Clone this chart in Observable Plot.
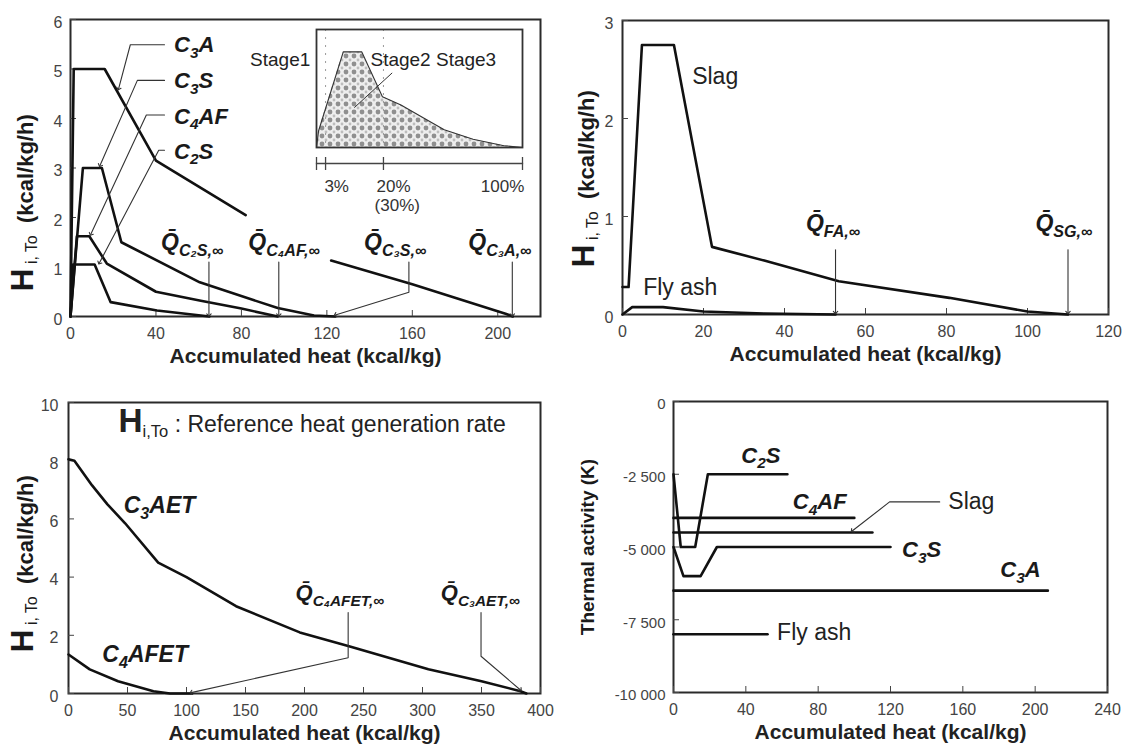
<!DOCTYPE html>
<html><head><meta charset="utf-8">
<script src="https://cdn.jsdelivr.net/npm/d3@7"></script>
<script src="https://cdn.jsdelivr.net/npm/@observablehq/plot@0.6"></script>
<style>
body{margin:0;background:#fff;}
#wrap{position:relative;width:1126px;height:747px;overflow:hidden;background:#fff;}
</style></head><body><div id="wrap"></div>
<script>
// ================= DATA =================
// Panel A: reference heat generation rate of clinker minerals
const pAxTicks = [0, 40, 80, 120, 160, 200];
const pAyTicks = [0, 1, 2, 3, 4, 5, 6];
const c3aHeat = [0, 1.5, 16, 40, 82, null, 122, 160, 204, 207];
const c3aRate = [0, 5.0, 5.0, 3.15, 2.05, null, 1.13, 0.65, 0.05, 0];
const c3sHeat = [0, 5.8, 14.7, 23.8, 60.5, 97, 114, 124];
const c3sRate = [0, 3.0, 3.0, 1.5, 0.69, 0.17, 0.02, 0];
const c4afHeat = [0, 3, 8.8, 17, 40, 61, 80, 97];
const c4afRate = [0, 1.62, 1.62, 1.07, 0.5, 0.32, 0.16, 0];
const c2sHeat = [0, 1.2, 11.3, 18.8, 40.5, 61, 65];
const c2sRate = [0, 1.05, 1.05, 0.29, 0.12, 0.02, 0];
const pANames = ["C_{3}A", "C_{3}S", "C_{4}AF", "C_{2}S"];
const pANameX = [48.5, 48.5, 48.5, 48.5];
const pANameY = [5.49, 4.75, 4.04, 3.33];
const pALeadX = [[44, 28, 22.5], [44, 31.3, 13.8], [44, 35.5, 9.5], [44, 41.3, 13.5]];
const pALeadY = [[5.49, 5.49, 4.6], [4.77, 4.77, 3.05], [4.07, 4.07, 1.66], [3.36, 3.36, 1.08]];
const pAQNames = ["Q\u0304_{C\u2082S,\u221E}", "Q\u0304_{C\u2084AF,\u221E}", "Q\u0304_{C\u2083S,\u221E}", "Q\u0304_{C\u2083A,\u221E}"];
const pAQX = [57, 100, 152, 201];
const pAQY = [1.5, 1.5, 1.5, 1.5];
const pAQLeadX = [[64.8, 64.8], [97.5, 97.5], [158.4, 158.4, 124], [206.8, 206.8]];
const pAQLeadY = [[1.1, 0.03], [1.1, 0.03], [1.1, 0.49, 0.03], [1.1, 0.03]];

// Inset: schematic stages (x: schematic progress, y: relative rate)
const insetX = [0, 1, 13, 22, 32, 41, 52, 62, 76, 91, 100];
const insetY = [0, 0.14, 0.81, 0.81, 0.43, 0.36, 0.25, 0.15, 0.07, 0.015, 0];
const insetTicks = [0, 4.4, 32.5, 100];
const insetStageLines = [4.4, 32.5];
const insetTickText = ["3%", "20%", "100%"];
const insetTickTextX = [9.8, 37.4, 90.3];
const insetTickText2 = ["(30%)"];
const insetTickText2X = [39.2];
const stage1Name = ["Stage1"];
const stage1X = [-3];
const stage23Name = ["Stage2 Stage3"];
const stage23X = [26.2];
const stageNameY = [0.74];
const stageLeadX = [36.6, 18.5];
const stageLeadY = [0.63, 0.34];

// Panel B: slag and fly ash
const pBxTicks = [0, 20, 40, 60, 80, 100, 120];
const pByTicks = [0, 1, 2, 3];
const slagHeat = [0, 1.5, 4.8, 12.7, 22.1, 35, 53.4, 80.7, 100, 110];
const slagRate = [0.28, 0.28, 2.75, 2.75, 0.69, 0.55, 0.34, 0.17, 0.03, 0];
const flyHeat = [0, 2.4, 10, 20, 35, 52.6];
const flyRate = [0, 0.075, 0.075, 0.03, 0.01, 0];
const pBNames = ["Slag", "Fly ash"];
const pBNameX = [17.2, 5.1];
const pBNameY = [2.43, 0.27];
const pBQNames = ["Q\u0304_{FA,\u221E}", "Q\u0304_{SG,\u221E}"];
const pBQX = [52, 109];
const pBQY = [0.93, 0.93];
const pBQLeadX = [[52.6, 52.6], [110, 110]];
const pBQLeadY = [[0.66, 0.02], [0.66, 0.02]];

// Panel C: ettringite phases
const pCxTicks = [0, 50, 100, 150, 200, 250, 300, 350, 400];
const pCyTicks = [0, 2, 4, 6, 8, 10];
const c3aetHeat = [0, 5, 20, 33, 48, 76, 100, 142, 196, 237, 305, 350, 383, 388];
const c3aetRate = [8.05, 8.0, 7.15, 6.5, 5.85, 4.5, 4.0, 3.0, 2.1, 1.63, 0.83, 0.42, 0.08, 0];
const c4afetHeat = [0, 18, 42, 72, 86, 104];
const c4afetRate = [1.34, 0.83, 0.42, 0.08, 0, 0];
const pCNames = ["C_{3}AET", "C_{4}AFET"];
const pCNameX = [46.8, 28.7];
const pCNameY = [6.44, 1.34];
const pCNote = ["*{H}_r{i,To}\u00A0: Reference heat generation rate"];
const pCNoteX = [42.3];
const pCNoteY = [9.25];
const pCQNames = ["Q\u0304_{C\u2084AFET,\u221E}", "Q\u0304_{C\u2083AET,\u221E}"];
const pCQX = [230, 349];
const pCQY = [3.46, 3.46];
const pCQLeadX = [[237, 237, 104], [349.6, 349.6, 383]];
const pCQLeadY = [[2.78, 1.23, 0.03], [2.78, 1.28, 0.12]];

// Panel D: thermal activity
const pDxTicks = [0, 40, 80, 120, 160, 200, 240];
const pDyTicks = [0, -2500, -5000, -7500, -10000];
const pDyTickText = ["0", "-2 500", "-5 000", "-7 500", "-10 000"];
const taC2SHeat = [0, 4, 12, 19, 63];
const taC2SK = [-2500, -5000, -5000, -2500, -2500];
const taC3SHeat = [0, 5.5, 15, 24, 120];
const taC3SK = [-5000, -6000, -6000, -5000, -5000];
const taC4AFHeat = [0, 100];
const taC4AFK = [-4000, -4000];
const taSlagHeat = [0, 110];
const taSlagK = [-4500, -4500];
const taC3AHeat = [0, 207];
const taC3AK = [-6500, -6500];
const taFlyHeat = [0, 52];
const taFlyK = [-8000, -8000];
const pDNames = ["C_{2}S", "C_{4}AF", "C_{3}S", "C_{3}A"];
const pDNameX = [37.5, 66, 126.4, 180.7];
const pDNameY = [-1857, -3451, -5103, -5786];
const pDPlainNames = ["Slag", "Fly ash"];
const pDPlainX = [152, 57.3];
const pDPlainY = [-3451, -7950];
const pDLeadX = [147.2, 119.5, 98.8];
const pDLeadY = [-3451, -3451, -4450];

const xTitle = ["Accumulated heat (kcal/kg)"];
const yTitleH = ["*{H}_r{\u00A0i, To}\u00A0\u00A0(kcal/kg/h)"];
const yTitleK = ["Thermal activity (K)"];

// ================= HELPERS =================
const FONT = "'Liberation Sans', Arial, Helvetica, sans-serif";
const wrap = document.getElementById("wrap");
const rows = (name, xs, ys) => xs.map((x, i) => ({name, x, y: ys[i]}));
const labelRows = (ts, xs, ys) => ts.map((t, i) => ({t, x: xs[i], y: ys[i]}));
const polyRows = (xss, yss) => xss.flatMap((xs, k) => xs.map((x, i) => ({id: k, x, y: yss[k][i]})));

function richify(svg) {
  svg.querySelectorAll("text").forEach(t => {
    const s = t.textContent;
    if (!/(\*|_r?)\{/.test(s) || t.querySelector("tspan")) return;
    const fs = parseFloat(getComputedStyle(t).fontSize) || 16;
    const parts = s.split(/(\*\{[^}]*\}|_r?\{[^}]*\})/).filter(p => p !== "");
    while (t.firstChild) t.removeChild(t.firstChild);
    let shift = 0;
    for (const p of parts) {
      const ts = document.createElementNS("http://www.w3.org/2000/svg", "tspan");
      let txt = p, target = 0;
      if (p.startsWith("*{")) { txt = p.slice(2, -1); ts.setAttribute("font-size", fs * 1.45); ts.setAttribute("font-weight", "bold"); }
      else if (p.startsWith("_r{")) { txt = p.slice(3, -1); ts.setAttribute("font-size", fs * 0.72); ts.setAttribute("font-weight", "normal"); ts.setAttribute("font-style", "normal"); target = fs * 0.22; }
      else if (p.startsWith("_{")) { txt = p.slice(2, -1); ts.setAttribute("font-size", fs * 0.7); target = fs * 0.26; }
      if (target !== shift) { ts.setAttribute("dy", target - shift); shift = target; }
      ts.textContent = txt;
      t.appendChild(ts);
    }
  });
}
function mount(svg, left, top) {
  svg.style.position = "absolute";
  svg.style.left = left + "px";
  svg.style.top = top + "px";
  wrap.appendChild(svg);
  richify(svg);
}
function baseStyle() {
  return {fontFamily: FONT, fontSize: "16px", color: "#3a3a3a", background: "transparent", overflow: "visible"};
}
function axesMarks(xTicks, yTicks, fw, fh, opts = {}) {
  return [
    Plot.frame({stroke: "#2a2a2a", strokeWidth: 2}),
    Plot.tickX(xTicks, {x: d => d, insetTop: fh - 6, stroke: "#444"}),
    Plot.tickY(yTicks, {y: d => d, insetRight: fw - 6, stroke: "#444"}),
    Plot.axisX({ticks: xTicks, tickSize: 0, tickPadding: 11, label: null, fontSize: 16, fill: "#444", tickFormat: d => String(d)}),
    Plot.axisY({ticks: yTicks, tickSize: 0, tickPadding: opts.yPad ?? 8, dy: 3, label: null,
      fontSize: opts.yFont ?? 16, fill: "#444", tickFormat: opts.yFormat ?? (d => String(d))}),
    Plot.text(xTitle, {text: d => d, frameAnchor: "bottom", lineAnchor: "middle", dy: 40, fontSize: 21, fontWeight: "bold", fill: "#222"})
  ];
}
const lineStyle = {x: "x", y: "y", z: "name", stroke: "#111", strokeWidth: 2.6, strokeLinejoin: "round"};
const leadStyle = {x: "x", y: "y", z: "id", stroke: "#333", strokeWidth: 1.1, markerEnd: "arrow"};
const italicLabel = {x: "x", y: "y", text: "t", fontSize: 22, fontWeight: "bold", fontStyle: "italic", fill: "#1a1a1a"};

// ================= PANEL A =================
{
  const fw = 470, fh = 297;
  const data = [
    ...rows("C3A", c3aHeat, c3aRate), ...rows("C3S", c3sHeat, c3sRate),
    ...rows("C4AF", c4afHeat, c4afRate), ...rows("C2S", c2sHeat, c2sRate)
  ];
  const svg = Plot.plot({
    width: 560, height: 380, marginLeft: 70, marginRight: 20, marginTop: 19, marginBottom: 64,
    x: {domain: [0, 220]}, y: {domain: [0, 6]}, style: baseStyle(),
    marks: [
      ...axesMarks(pAxTicks, pAyTicks, fw, fh),
      Plot.line(data, lineStyle),
      Plot.line(polyRows(pALeadX, pALeadY), leadStyle),
      Plot.line(polyRows(pAQLeadX, pAQLeadY), leadStyle),
      Plot.text(labelRows(pANames, pANameX, pANameY), {...italicLabel, textAnchor: "start"}),
      Plot.text(labelRows(pAQNames, pAQX, pAQY), {...italicLabel, textAnchor: "middle", fontSize: 23}),
      Plot.text(yTitleH, {text: d => d, frameAnchor: "bottom-left", rotate: -90, textAnchor: "start",
        dx: -38, dy: -25, fontSize: 22, fontWeight: "bold", fill: "#1a1a1a"})
    ]
  });
  mount(svg, 0, 0);
}

// ================= INSET =================
{
  const inset = insetX.map((x, i) => ({x, y: insetY[i]}));
  const defs = () => {
    const ns = "http://www.w3.org/2000/svg";
    const d = document.createElementNS(ns, "defs");
    const p = document.createElementNS(ns, "pattern");
    p.setAttribute("id", "dotpat"); p.setAttribute("width", 8); p.setAttribute("height", 8);
    p.setAttribute("patternUnits", "userSpaceOnUse");
    const bg = document.createElementNS(ns, "rect");
    bg.setAttribute("width", 8); bg.setAttribute("height", 8); bg.setAttribute("fill", "#eeeeee");
    p.appendChild(bg);
    [[4, 4, 2.4, "#8f8f8f"], [0, 0, 1.4, "#bdbdbd"], [8, 0, 1.4, "#bdbdbd"], [0, 8, 1.4, "#bdbdbd"], [8, 8, 1.4, "#bdbdbd"]].forEach(([cx, cy, r, f]) => {
      const c = document.createElementNS(ns, "circle");
      c.setAttribute("cx", cx); c.setAttribute("cy", cy); c.setAttribute("r", r); c.setAttribute("fill", f);
      p.appendChild(c);
    });
    d.appendChild(p);
    return d;
  };
  const svg = Plot.plot({
    width: 300, height: 135, marginLeft: 86, marginRight: 8, marginTop: 9, marginBottom: 8,
    x: {domain: [0, 100], axis: null}, y: {domain: [0, 1], axis: null}, style: baseStyle(),
    marks: [
      defs,
      Plot.areaY(inset, {x: "x", y: "y", fill: "url(#dotpat)"}),
      Plot.ruleX(insetStageLines, {x: d => d, stroke: "#9a9a9a", strokeDasharray: "2,6"}),
      Plot.line(inset, {x: "x", y: "y", stroke: "#333", strokeWidth: 1.1}),
      Plot.frame({stroke: "#333", strokeWidth: 1.8}),
      Plot.line(stageLeadX.map((x, i) => ({x, y: stageLeadY[i]})), {x: "x", y: "y", stroke: "#333", strokeWidth: 1}),
      Plot.text(labelRows(stage1Name, stage1X, stageNameY), {x: "x", y: "y", text: "t", textAnchor: "end", fontSize: 19, fill: "#222"}),
      Plot.text(labelRows(stage23Name, stage23X, stageNameY), {x: "x", y: "y", text: "t", textAnchor: "start", fontSize: 19, fill: "#222"})
    ]
  });
  mount(svg, 230, 20);
  const svg2 = Plot.plot({
    width: 300, height: 70, marginLeft: 86, marginRight: 8, marginTop: 7, marginBottom: 57,
    x: {domain: [0, 100], axis: null}, style: baseStyle(),
    marks: [
      Plot.frame({anchor: "bottom", stroke: "#444", strokeWidth: 1.3}),
      Plot.tickX(insetTicks, {x: d => d, insetBottom: -7, stroke: "#444", strokeWidth: 1.3}),
      Plot.text(insetTickText.map((t, i) => ({t, x: insetTickTextX[i]})), {x: "x", text: "t", frameAnchor: "bottom", lineAnchor: "middle", dy: 23, fontSize: 17, fill: "#333"}),
      Plot.text(insetTickText2.map((t, i) => ({t, x: insetTickText2X[i]})), {x: "x", text: "t", frameAnchor: "bottom", lineAnchor: "middle", dy: 42, fontSize: 17, fill: "#333"})
    ]
  });
  mount(svg2, 230, 150);
}

// ================= PANEL B =================
{
  const fw = 486, fh = 294;
  const data = [...rows("Slag", slagHeat, slagRate), ...rows("Fly ash", flyHeat, flyRate)];
  const svg = Plot.plot({
    width: 566, height: 380, marginLeft: 62, marginRight: 18, marginTop: 20, marginBottom: 66,
    x: {domain: [0, 120]}, y: {domain: [0, 3]}, style: baseStyle(),
    marks: [
      ...axesMarks(pBxTicks, pByTicks, fw, fh, {yPad: 9}),
      Plot.line(data, lineStyle),
      Plot.line(polyRows(pBQLeadX, pBQLeadY), leadStyle),
      Plot.text(labelRows(pBNames, pBNameX, pBNameY), {x: "x", y: "y", text: "t", textAnchor: "start", fontSize: 23, fill: "#222"}),
      Plot.text(labelRows(pBQNames, pBQX, pBQY), {...italicLabel, textAnchor: "middle", fontSize: 23}),
      Plot.text(yTitleH, {text: d => d, frameAnchor: "bottom-left", rotate: -90, textAnchor: "start",
        dx: -29, dy: -47, fontSize: 22, fontWeight: "bold", fill: "#1a1a1a"})
    ]
  });
  mount(svg, 560, 0);
}

// ================= PANEL C =================
{
  const fw = 472, fh = 291;
  const data = [...rows("C3AET", c3aetHeat, c3aetRate), ...rows("C4AFET", c4afetHeat, c4afetRate)];
  const svg = Plot.plot({
    width: 560, height: 367, marginLeft: 68, marginRight: 20, marginTop: 22, marginBottom: 54,
    x: {domain: [0, 400]}, y: {domain: [0, 10]}, style: baseStyle(),
    marks: [
      ...axesMarks(pCxTicks, pCyTicks, fw, fh, {yPad: 10}),
      Plot.line(data, lineStyle),
      Plot.line(polyRows(pCQLeadX, pCQLeadY), leadStyle),
      Plot.text(labelRows(pCNames, pCNameX, pCNameY), {...italicLabel, textAnchor: "start", fontSize: 23}),
      Plot.text(labelRows(pCQNames, pCQX, pCQY), {...italicLabel, textAnchor: "middle", fontSize: 22}),
      Plot.text(labelRows(pCNote, pCNoteX, pCNoteY), {x: "x", y: "y", text: "t", textAnchor: "start", fontSize: 23, fill: "#222"}),
      Plot.text(yTitleH, {text: d => d, frameAnchor: "bottom-left", rotate: -90, textAnchor: "start",
        dx: -36, dy: -41, fontSize: 22, fontWeight: "bold", fill: "#1a1a1a"})
    ]
  });
  mount(svg, 0, 380);
}

// ================= PANEL D =================
{
  const fw = 434, fh = 291;
  const data = [
    ...rows("C2S", taC2SHeat, taC2SK), ...rows("C3S", taC3SHeat, taC3SK),
    ...rows("C4AF", taC4AFHeat, taC4AFK), ...rows("Slag", taSlagHeat, taSlagK),
    ...rows("C3A", taC3AHeat, taC3AK), ...rows("Fly ash", taFlyHeat, taFlyK)
  ];
  const fmt = new Map(pDyTicks.map((v, i) => [v, pDyTickText[i]]));
  const svg = Plot.plot({
    width: 566, height: 367, marginLeft: 113, marginRight: 19, marginTop: 21, marginBottom: 55,
    x: {domain: [0, 240]}, y: {domain: [-10000, 0]}, style: baseStyle(),
    marks: [
      ...axesMarks(pDxTicks, pDyTicks, fw, fh, {yPad: 8, yFont: 15, yFormat: d => fmt.get(d)}),
      Plot.line(data, lineStyle),
      Plot.line(pDLeadX.map((x, i) => ({id: 0, x, y: pDLeadY[i]})), leadStyle),
      Plot.text(labelRows(pDNames, pDNameX, pDNameY), {...italicLabel, textAnchor: "start"}),
      Plot.text(labelRows(pDPlainNames, pDPlainX, pDPlainY), {x: "x", y: "y", text: "t", textAnchor: "start", fontSize: 23, fill: "#222"}),
      Plot.text(yTitleK, {text: d => d, frameAnchor: "left", textAnchor: "middle", lineAnchor: "middle", rotate: -90, dx: -86, fontSize: 19, fontWeight: "bold", fill: "#1a1a1a"})
    ]
  });
  mount(svg, 560, 380);
}
</script></body></html>
